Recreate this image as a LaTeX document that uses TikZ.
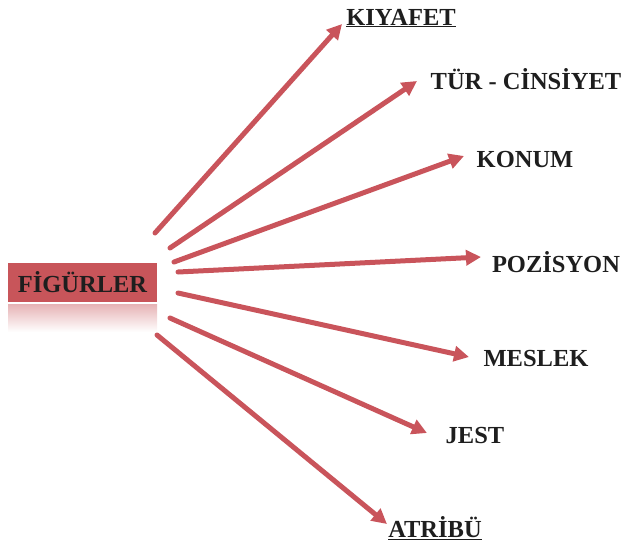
\documentclass[tikz,border=0pt]{standalone}
\usepackage{fontspec}
\setmainfont{Liberation Serif}
\usetikzlibrary{arrows.meta}
\definecolor{arrred}{HTML}{C9545B}
\definecolor{boxred}{HTML}{C8555A}
\definecolor{txt}{HTML}{1E1E1E}
\tikzset{
  conn/.style={draw=arrred, line width=5pt, -{Triangle[length=15pt,width=15pt]}, line cap=round},
  lbl/.style={font=\fontsize{24.5}{26}\selectfont\bfseries, text=txt, inner sep=0pt},
}
\begin{document}
\begin{tikzpicture}[x=1pt,y=-1pt]
\useasboundingbox (0,0) rectangle (624,547);
% reflection
\shade[top color=boxred!45, bottom color=white] (8,304) rectangle (157,332);
% main box
\node[fill=boxred, minimum width=149pt, minimum height=39pt, inner sep=0pt,
      font=\fontsize{24.5}{26}\selectfont\bfseries, text=txt] (fig) at (82.5,282.5) {FİGÜRLER};
% labels
\node[lbl] (kiy) at (401,18) {\underline{KIYAFET}};
\node[lbl] (tur) at (526,79) {TÜR - CİNSİYET};
\node[lbl] (kon) at (525,160) {KONUM};
\node[lbl] (poz) at (556,262) {POZİSYON};
\node[lbl] (mes) at (536,359) {MESLEK};
\node[lbl] (jes) at (475,436) {JEST};
\node[lbl] (atr) at (435,528) {\underline{ATRİBÜ}};
% start / end coordinates
\coordinate (s1) at (155,233); \coordinate (e1) at (342,24);
\coordinate (s2) at (170,248); \coordinate (e2) at (417,81);
\coordinate (s3) at (174,262); \coordinate (e3) at (464,156);
\coordinate (s4) at (178,272); \coordinate (e4) at (481,257);
\coordinate (s5) at (178,293); \coordinate (e5) at (469,357);
\coordinate (s6) at (170,318); \coordinate (e6) at (427,433);
\coordinate (s7) at (157,335); \coordinate (e7) at (387,524);
\foreach \i in {1,...,7}{ \draw[conn] (s\i) -- (e\i); }
\end{tikzpicture}
\end{document}
